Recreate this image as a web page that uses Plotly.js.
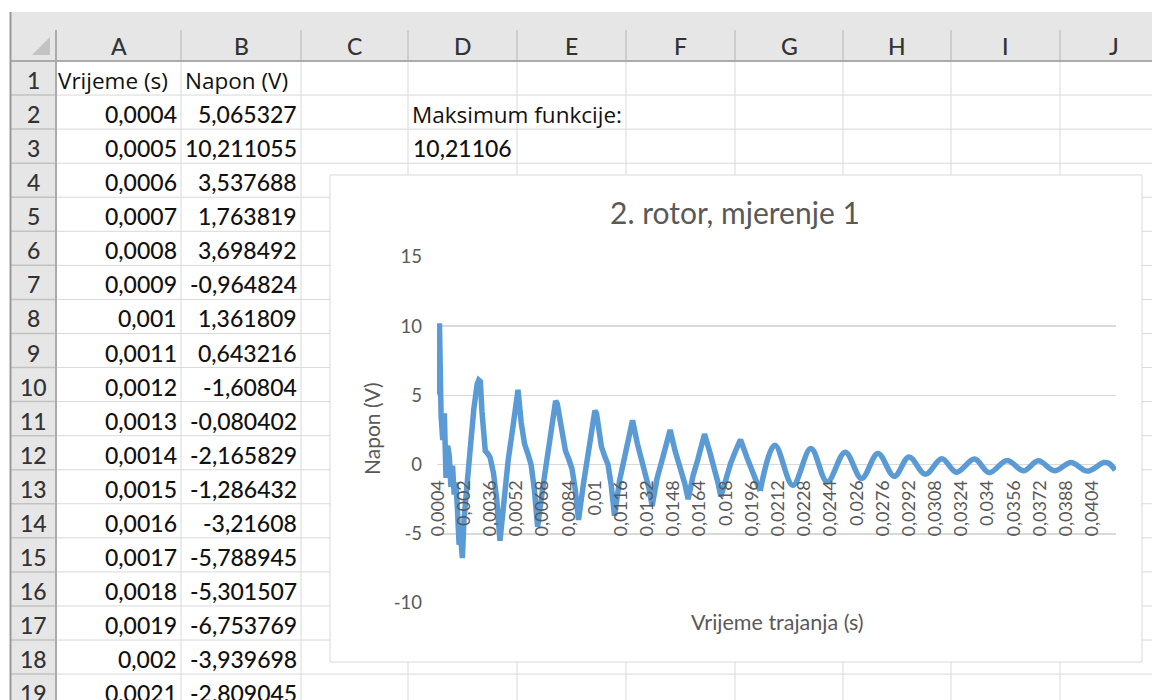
<!DOCTYPE html>
<html><head><meta charset="utf-8">
<script src="https://cdn.plot.ly/plotly-3.0.1.min.js"></script>
<style>html,body{margin:0;padding:0;background:#fff;}#chart{width:1152px;height:700px;}</style>
</head><body><div id="chart"></div>
<script>
// ---------- data ----------
const timeS = [
 0.0004,0.0005,0.0006,0.0007,0.0008,0.0009,0.001,0.0011,0.0012,0.0013,0.0014,0.0015,0.0016,0.0017,0.0018,0.0019,0.002,0.0021,
 0.0022,0.0024,0.0026,0.0027,0.0028,0.0029,0.003,0.0031,0.0032,0.0033,0.0035,0.0036,0.0038,0.004,0.0042,
 0.0045,0.0047,0.005,0.0053,0.0055,0.0057,0.0059,0.0061,0.0063,0.0065,
 0.0068,0.0071,0.0074,0.0076,0.0077,0.0079,0.0082,0.0084,0.0086,0.0088,0.009,
 0.0093,0.0096,0.0098,0.01,0.0101,0.0104,0.0106,0.0108,0.011,0.0112,
 0.0115,0.0118,0.0121,0.0123,0.0126,0.0128,0.013,0.0133,0.0135,
 0.0138,0.0141,0.0144,0.0146,0.0149,0.0151,0.0153,0.0155,0.0157,
 0.016,0.0163,0.0165,0.0167,0.017,0.0173,0.0175,0.0177,
 0.018,0.0183,0.0186,0.0189,0.0193,0.0196,0.0199,0.0201,
 0.021,0.0221,0.0232,0.0242,0.0253,0.0263,0.0273,0.0283,0.0292,0.0302,
 0.0312,0.0321,0.0332,0.0341,0.0352,0.0362,0.0371,0.0381,0.0391,0.0401,0.0411,0.0414,0.0418
];
const voltageV = [
 5.065327,10.211055,3.537688,1.763819,3.698492,-0.964824,1.361809,0.643216,-1.60804,-0.080402,-2.165829,-1.286432,-3.21608,-5.788945,-5.301507,-6.753769,-3.939698,-2.809045,
 -1.3,1.4,4.0,5.2,5.8,6.1,6.0,3.8,1.6,1.0,0.7,0.5,-0.6,-2.5,-5.5,
 -1.6,0.3,2.8,5.4,3.0,1.5,0.8,0.0,-1.8,-4.5,
 -1.8,0.6,3.1,4.6,4.4,3.0,1.0,0.4,-0.3,-1.8,-4.0,
 -1.4,0.9,2.5,3.9,3.7,1.3,0.6,0.0,-1.5,-3.7,
 -1.2,0.6,2.2,3.2,1.5,0.6,-0.2,-1.7,-3.0,
 -1.0,0.3,1.7,2.5,1.0,0.3,-0.4,-1.4,-2.5,
 -0.8,0.4,1.4,2.2,1.0,-0.2,-1.2,-2.3,
 -0.9,0.1,1.0,1.8,0.5,-0.4,-1.3,-1.9,
 1.4,-1.5,1.16,-1.25,0.9,-1.0,0.8,-0.85,0.55,-0.7,
 0.42,-0.55,0.4,-0.58,0.3,-0.45,0.27,-0.45,0.15,-0.47,0.15,0.1,-0.4
];
const xTickLabels = ["0,0004","0,002","0,0036","0,0052","0,0068","0,0084","0,01","0,0116","0,0132","0,0148",
 "0,0164","0,018","0,0196","0,0212","0,0228","0,0244","0,026","0,0276","0,0292","0,0308",
 "0,0324","0,034","0,0356","0,0372","0,0388","0,0404"];
const yTickValues = [-10,-5,0,5,10,15];
const chartTitle = "2. rotor, mjerenje 1";
const yAxisTitle = "Napon (V)";
const xAxisTitle = "Vrijeme trajanja (s)";
const columnLetters = ["A","B","C","D","E","F","G","H","I","J"];
const headerTime = "Vrijeme (s)";
const headerVoltage = "Napon (V)";
const maxLabel = "Maksimum funkcije:";
const tableDataRows = 18;
const smoothFrom = 0.0201; // from here on the trace is a smooth sine-like wave

// ---------- geometry (pixels) ----------
const W = 1152, H = 700;
const colEdges = [10,56,181,301,408,517,626,735,843,951,1060,1168];
const headerTop = 12, headerSepTop = 30, headerBottom = 61, rowH = 34.06;
const chartBox = {x0:330, y0:175, x1:1142, y1:662};
const plotBox = {x0:437, x1:1116, yTop:257, yBot:603};
const yRange = [-10, 15];
const FONT = "Lato, 'Open Sans', sans-serif";
const FONT_TXT = "'Open Sans', Lato, sans-serif";
const CELL = 23;
const fx = x => x / W;
const fy = y => 1 - y / H;
const rowTop = k => headerBottom + (k - 1) * rowH;
const rowMid = k => headerBottom + (k - 0.5) * rowH + 2;
const comma = v => String(v).replace('.', ',');

const shapes = [];
const ann = [];
function rect(x0,y0,x1,y1,fill,lineColor,lw){
  shapes.push({type:'rect',xref:'paper',yref:'paper',layer:'below',
    x0:fx(x0),x1:fx(x1),y0:fy(y1),y1:fy(y0),fillcolor:fill,
    line:{color:lineColor||'rgba(0,0,0,0)',width:lw||0}});
}
function line(x0,y0,x1,y1,color,w){
  shapes.push({type:'line',xref:'paper',yref:'paper',layer:'below',
    x0:fx(x0),x1:fx(x1),y0:fy(y0),y1:fy(y1),line:{color:color,width:w||1}});
}
function text(t,x,y,xa,opts){
  opts = opts||{};
  ann.push({text:t,xref:'paper',yref:'paper',x:fx(x),y:fy(y),xanchor:xa,yanchor:'middle',
    showarrow:false,textangle:opts.angle||0,
    font:{family:opts.family||FONT,size:opts.size||CELL,color:opts.color||'#111111',
      weight:opts.weight||500}});
}

// header backgrounds
rect(10, headerTop, W, headerBottom, '#e6e6e6');
rect(10, headerBottom, colEdges[1], H, '#e6e6e6');
// cell grid lines
for (let k = 2; k <= 20; k++) line(colEdges[1], rowTop(k), W, rowTop(k), '#d9d9d9', 1);
for (let i = 2; i < colEdges.length; i++) line(colEdges[i], headerBottom, colEdges[i], H, '#d9d9d9', 1);
// row header separators
for (let k = 2; k <= 20; k++) line(10, rowTop(k), colEdges[1], rowTop(k), '#c2c2c2', 1.5);
// column header separators
for (let i = 1; i < colEdges.length; i++) line(colEdges[i], headerSepTop, colEdges[i], headerBottom, '#c6c6c6', 1.5);
line(10, headerBottom, W, headerBottom, '#ababab', 2);
line(colEdges[1], headerSepTop, colEdges[1], H, '#ababab', 2);
line(10.5, headerTop, 10.5, H, '#9a9a9a', 2);
// corner triangle
shapes.push({type:'path',xref:'paper',yref:'paper',layer:'below',
  path:`M ${fx(50)} ${fy(37)} L ${fx(50)} ${fy(55)} L ${fx(32)} ${fy(55)} Z`,
  fillcolor:'#c3c3c3',line:{width:0}});
// chart box
rect(chartBox.x0, chartBox.y0, chartBox.x1, chartBox.y1, '#ffffff', '#d9d9d9', 1);

// header texts
for (let i = 0; i < columnLetters.length; i++)
  text(columnLetters[i], (colEdges[i+1]+colEdges[i+2])/2, 46, 'center', {color:'#333333'});
for (let k = 1; k <= 19; k++) text(String(k), 33, rowMid(k), 'center', {color:'#333333'});
// cell texts
text(headerTime, 56, rowMid(1), 'left', {family:FONT_TXT, size:22.5});
text(headerVoltage, 183, rowMid(1), 'left', {family:FONT_TXT, size:22.5});
for (let i = 0; i < tableDataRows; i++) {
  text(comma(timeS[i]), 179, rowMid(i+2), 'right');
  text(comma(voltageV[i]), 299, rowMid(i+2), 'right');
}
const maxV = Math.max(...voltageV);
text(maxLabel, 410, rowMid(2), 'left', {family:FONT_TXT, size:22.5});
text(comma((maxV + 1e-9).toFixed(5)), 514, rowMid(3), 'right');

// chart texts
text(chartTitle, 735, 212, 'center', {size:30, color:'#595959', weight:400});
text(yAxisTitle, 371, 429, 'center', {size:21, color:'#595959', angle:-90, weight:400});
text(xAxisTitle, 777, 622, 'center', {size:21.5, color:'#595959', weight:400});

// ---------- plot ----------
const yd0 = fy(plotBox.yBot), yd1 = fy(plotBox.yTop);
const xAxisPos = yd0 + (0 - yRange[0]) / (yRange[1] - yRange[0]) * (yd1 - yd0);
const xTickVals = xTickLabels.map(s => parseFloat(s.replace(',', '.')));

const split = timeS.indexOf(smoothFrom);
const lineStyle = {color:'#5b9bd5', width:5.5};
const traceSharp = {
  x: timeS.slice(0, split + 1), y: voltageV.slice(0, split + 1), type:'scatter', mode:'lines',
  line:Object.assign({shape:'linear'}, lineStyle), hoverinfo:'skip'
};
const traceSmooth = {
  x: timeS.slice(split), y: voltageV.slice(split), type:'scatter', mode:'lines',
  line:Object.assign({shape:'spline', smoothing:1}, lineStyle), hoverinfo:'skip'
};
const layout = {
  width:W, height:H, margin:{l:0,r:0,t:0,b:0},
  paper_bgcolor:'#ffffff', plot_bgcolor:'rgba(0,0,0,0)',
  showlegend:false,
  xaxis:{domain:[fx(plotBox.x0), fx(plotBox.x1)], range:[0.00035,0.04185],
    anchor:'free', position:xAxisPos, showgrid:false, zeroline:false, showline:false,
    tickmode:'array', tickvals:xTickVals, ticktext:xTickLabels, tickangle:-90, ticks:'',
    ticklabelstandoff:11, tickfont:{family:FONT,size:18,color:'#595959'}},
  yaxis:{domain:[yd0, yd1], range:yRange, tickmode:'array', tickvals:yTickValues,
    ticktext:yTickValues.map(String),
    showgrid:true, gridcolor:'#d9d9d9', gridwidth:1.5, zeroline:false, showline:false,
    ticks:'', ticklabelstandoff:14, tickfont:{family:FONT,size:18.5,color:'#595959'}},
  shapes:shapes, annotations:ann
};
Plotly.newPlot('chart', [traceSharp, traceSmooth], layout, {staticPlot:true, displayModeBar:false});
</script></body></html>
